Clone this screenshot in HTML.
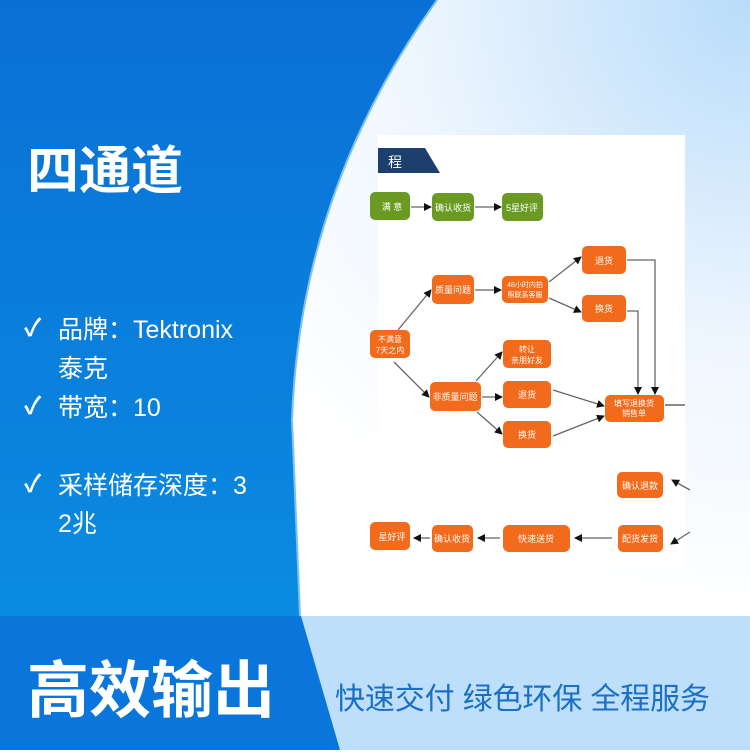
<!DOCTYPE html>
<html><head><meta charset="utf-8"><style>
body{margin:0;width:750px;height:750px;overflow:hidden;font-family:"Liberation Sans","Noto Sans CJK SC",sans-serif}
</style></head><body>
<svg width="750" height="750" viewBox="0 0 750 750" xmlns="http://www.w3.org/2000/svg" font-family="Liberation Sans, Noto Sans CJK SC, sans-serif">
<defs>
<radialGradient id="bg" cx="750" cy="0" r="620" gradientUnits="userSpaceOnUse">
<stop offset="0" stop-color="#b8dcfa"/><stop offset="0.55" stop-color="#eef6fe"/><stop offset="1" stop-color="#ffffff"/></radialGradient>
<linearGradient id="bl" x1="0" y1="0" x2="0" y2="1"><stop offset="0" stop-color="#0a70d6"/><stop offset="1" stop-color="#0a8be0"/></linearGradient>
<marker id="a" markerWidth="8" markerHeight="8" refX="7" refY="4" orient="auto" markerUnits="userSpaceOnUse"><path d="M0,0 L8,4 L0,8z" fill="#111"/></marker>
</defs>
<rect width="750" height="750" fill="url(#bg)"/>
<path d="M0,0 L437,0 Q 300,190 292,420 L300,616 L0,616Z" fill="url(#bl)"/>
<path d="M437,0 Q 300,190 292,420 L300,616" fill="none" stroke="#7fc0f0" stroke-width="2"/>
<rect x="0" y="616" width="750" height="134" fill="#bddffb"/>
<path d="M0,616 L301,616 L340,750 L0,750Z" fill="#0a76dc"/>
<text x="27" y="189" font-size="52" font-weight="bold" fill="#fff">四通道</text>
<g fill="#fff" font-size="25">
<text x="24" y="336" font-size="24" font-weight="bold">✓</text><text x="58" y="338">品牌：Tektronix</text>
<text x="58" y="377">泰克</text>
<text x="24" y="414" font-size="24" font-weight="bold">✓</text><text x="58" y="416">带宽：10</text>
<text x="24" y="492" font-size="24" font-weight="bold">✓</text><text x="58" y="494">采样储存深度：3</text>
<text x="58" y="532">2兆</text>
</g>
<text x="27" y="712" font-size="62" font-weight="bold" fill="#fff">高效输出</text>
<text x="335" y="709" font-size="30" fill="#1a6fc4" textLength="375">快速交付 绿色环保 全程服务</text>
<rect x="378" y="135" width="307" height="433" fill="#fff"/>
<path d="M378,148 L425,148 L440,173 L378,173Z" fill="#1d3f6e"/>
<text x="388" y="167" font-size="14" fill="#fff">程</text>
<g stroke="#666" stroke-width="1.3" fill="none" marker-end="url(#a)">
<line x1="411" y1="207" x2="431" y2="207"/><line x1="475" y1="207" x2="501" y2="207"/>
<line x1="398" y1="330" x2="431" y2="290"/><line x1="394" y1="362" x2="429" y2="397"/>
<line x1="475" y1="290" x2="501" y2="290"/>
<line x1="549" y1="282" x2="581" y2="257"/><line x1="549" y1="298" x2="581" y2="312"/>
<line x1="476" y1="381" x2="502" y2="352"/><line x1="482" y1="397" x2="502" y2="397"/><line x1="477" y1="412" x2="502" y2="434"/>
<line x1="553" y1="390" x2="604" y2="406"/><line x1="553" y1="436" x2="604" y2="416"/>
<polyline points="627,260 655,260 655,394"/><polyline points="627,311 638,311 638,394"/>
<line x1="690" y1="490" x2="672" y2="480"/><line x1="690" y1="532" x2="671" y2="544"/>
<line x1="612" y1="538" x2="575" y2="538"/><line x1="500" y1="538" x2="478" y2="538"/><line x1="430" y1="538" x2="414" y2="538"/>
</g>
<line x1="665" y1="405" x2="685" y2="405" stroke="#444" stroke-width="1.3"/>
<g font-size="9" fill="#fff" text-anchor="middle">
<rect x="370" y="192" width="40" height="28" rx="5" fill="#6a9a22"/><text x="392" y="210">满 意</text>
<rect x="432" y="193" width="42" height="28" rx="5" fill="#6a9a22"/><text x="453" y="211">确认收货</text>
<rect x="502" y="193" width="41" height="28" rx="5" fill="#6a9a22"/><text x="522" y="211">5星好评</text>
<g fill="#f26a1b">
<rect x="582" y="246" width="44" height="28" rx="5"/><rect x="582" y="295" width="44" height="27" rx="5"/>
<rect x="432" y="275" width="42" height="29" rx="5"/><rect x="502" y="276" width="46" height="27" rx="5"/>
<rect x="370" y="330" width="40" height="28" rx="5"/><rect x="503" y="340" width="48" height="28" rx="5"/>
<rect x="430" y="382" width="51" height="29" rx="5"/><rect x="503" y="381" width="48" height="27" rx="5"/>
<rect x="503" y="421" width="48" height="27" rx="5"/><rect x="605" y="395" width="59" height="27" rx="5"/>
<rect x="617" y="472" width="46" height="26" rx="5"/><rect x="618" y="525" width="45" height="27" rx="5"/>
<rect x="503" y="525" width="67" height="27" rx="6"/><rect x="432" y="525" width="41" height="27" rx="5"/>
<rect x="370" y="522" width="40" height="28" rx="5"/>
</g>
<text x="604" y="264">退货</text><text x="604" y="312">换货</text>
<text x="453" y="293">质量问题</text>
<text x="525" y="287" font-size="7">48小时内拍</text><text x="525" y="297" font-size="7">照联系客服</text>
<text x="390" y="342" font-size="8">不满意</text><text x="390" y="353" font-size="8">7天之内</text>
<text x="527" y="352" font-size="8">转让</text><text x="527" y="363" font-size="8">亲朋好友</text>
<text x="455" y="400">非质量问题</text><text x="527" y="398">退货</text><text x="527" y="438">换货</text>
<text x="634" y="406" font-size="8">填写退换货</text><text x="634" y="416" font-size="8">销售单</text>
<text x="640" y="489">确认退款</text><text x="640" y="542">配货发货</text>
<text x="536" y="542">快速送货</text><text x="452" y="542">确认收货</text><text x="392" y="540">星好评</text>
</g>
</svg>
</body></html>
